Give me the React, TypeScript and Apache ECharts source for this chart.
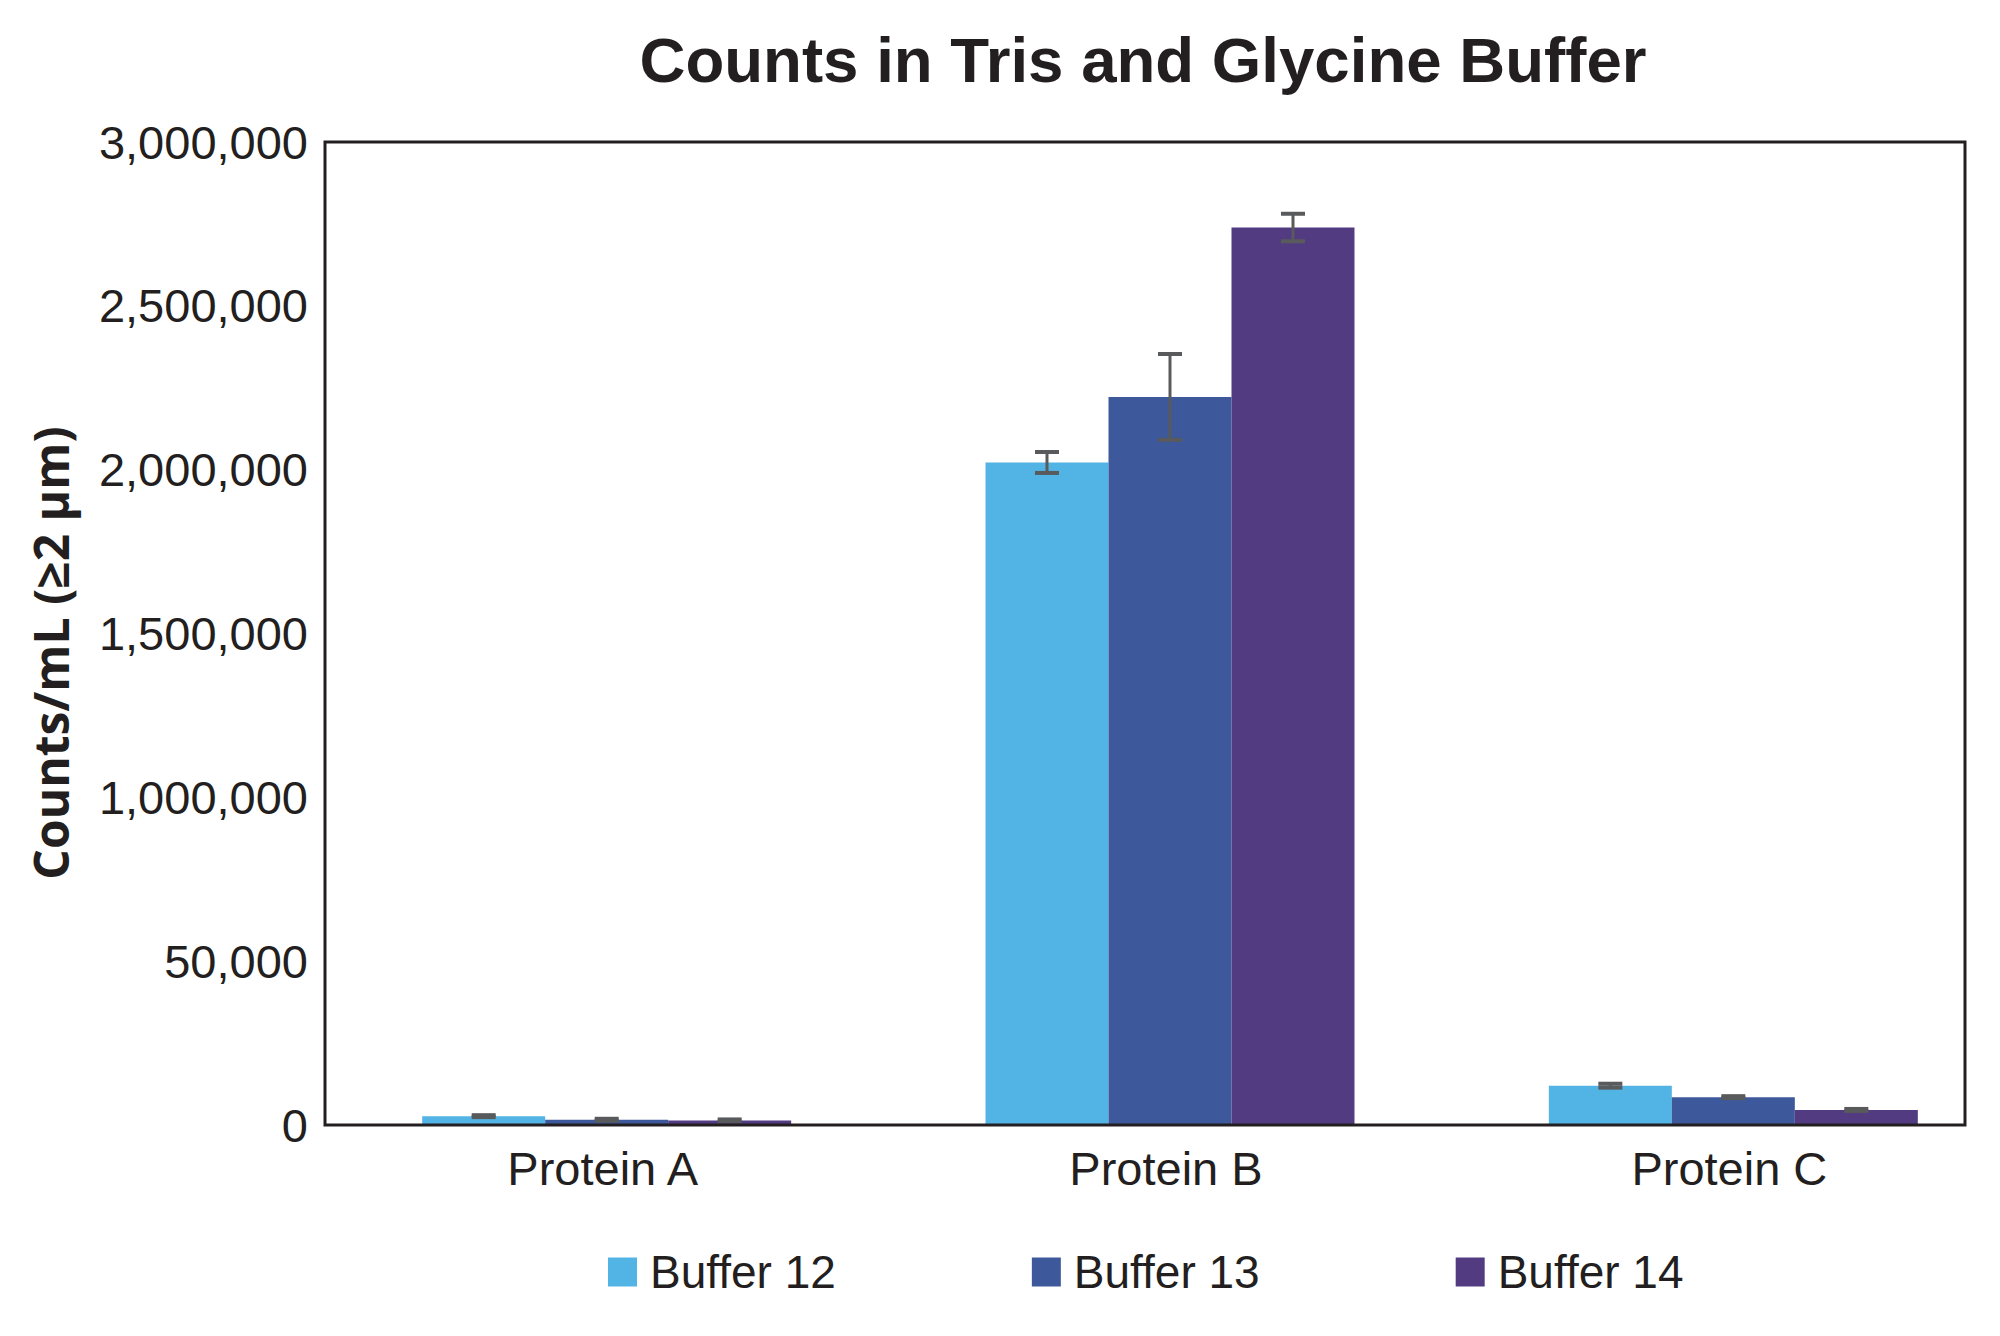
import React, { useEffect, useRef } from "react";
import * as echarts from "echarts";

const categories = ["Protein A", "Protein B", "Protein C"];
const seriesNames = ["Buffer 12", "Buffer 13", "Buffer 14"];
const seriesColors = ["#52b4e4", "#3d599c", "#533b82"];
const buffer12 = [27000, 2022000, 120000];
const buffer13 = [16000, 2222000, 85000];
const buffer14 = [14000, 2739000, 46000];
const err12 = [3000, 32000, 6000];
const err13 = [3000, 131000, 3000];
const err14 = [3000, 42000, 3000];
const yTickLabels = ["0", "50,000", "1,000,000", "1,500,000", "2,000,000", "2,500,000", "3,000,000"];

const FONT = "'Liberation Sans', Arial, Helvetica, sans-serif";
const TEXT = "#231f20";
const GAP = 0.345;

export default function App() {
  const ref = useRef<HTMLDivElement>(null);
  useEffect(() => {
    if (!ref.current) return;
    document.body.style.overflow = "hidden";
    const chart = echarts.init(ref.current, null, { renderer: "svg" });
    const values = [buffer12, buffer13, buffer14];
    const errs = [err12, err13, err14];

    const barSeries = seriesNames.map((name, i) => ({
      name,
      type: "bar",
      data: values[i],
      barGap: "0%",
      barCategoryGap: (GAP * 100).toFixed(1) + "%",
      itemStyle: { color: seriesColors[i] },
      z: 2,
    }));

    const errSeries = seriesNames.map((name, i) => ({
      name: name + " error",
      type: "custom",
      z: 5,
      clip: false,
      encode: { x: 0, y: 1 },
      data: categories.map((_, j) => [j, values[i][j], errs[i][j]]),
      renderItem: (params: any, api: any) => {
        const x = api.value(0);
        const v = api.value(1);
        const e = api.value(2);
        const band = api.size([1, 0])[0];
        const barW = (band * (1 - GAP)) / 3;
        const off = (i - 1) * barW;
        const top = api.coord([x, v + e]);
        const bot = api.coord([x, v - e]);
        const cx = top[0] + off;
        const half = 12;
        const st = { stroke: "#595a5c", lineWidth: 4 };
        return {
          type: "group",
          children: [
            { type: "line", shape: { x1: cx, y1: top[1], x2: cx, y2: bot[1] }, style: { stroke: "#595a5c", lineWidth: 3 } },
            { type: "line", shape: { x1: cx - half, y1: top[1], x2: cx + half, y2: top[1] }, style: st },
            { type: "line", shape: { x1: cx - half, y1: bot[1], x2: cx + half, y2: bot[1] }, style: st },
          ],
        };
      },
    }));

    chart.setOption({
      animation: false,
      backgroundColor: "#ffffff",
      title: {
        text: "Counts in Tris and Glycine Buffer",
        left: 1138,
        top: 22,
        textAlign: "center",
        textStyle: { fontFamily: FONT, fontWeight: "bold", fontSize: 63.6, color: TEXT },
      },
      legend: {
        data: seriesNames,
        left: 603,
        top: 1244,
        icon: "rect",
        itemWidth: 29,
        itemHeight: 29,
        itemGap: 196,
        textStyle: { fontFamily: FONT, fontSize: 46, color: TEXT, padding: [0, 0, 0, 8] },
      },
      grid: { left: 325, top: 142, width: 1690, height: 983, containLabel: false },
      xAxis: {
        type: "category",
        data: categories,
        axisLine: { show: false },
        axisTick: { show: false },
        axisLabel: { fontFamily: FONT, fontSize: 47, color: TEXT, margin: 20, padding: [0, 8, 0, 0] },
      },
      yAxis: {
        type: "value",
        min: 0,
        max: 3000000,
        interval: 500000,
        axisLine: { show: false },
        axisTick: { show: false },
        splitLine: { show: false },
        axisLabel: {
          fontFamily: FONT,
          fontSize: 47,
          color: TEXT,
          margin: 17,
          formatter: (val: number) => yTickLabels[Math.round(val / 500000)],
        },
      },
      graphic: [
        {
          type: "rect",
          z: 100,
          shape: { x: 325, y: 142, width: 1640, height: 983 },
          style: { fill: "none", stroke: TEXT, lineWidth: 3 },
        },
        {
          type: "text",
          z: 100,
          x: 50,
          y: 653,
          rotation: Math.PI / 2,
          style: {
            text: "Counts/mL (≥2 µm)",
            fontFamily: "'Open Sans', 'Noto Sans', sans-serif",
            fontWeight: "bold",
            fontSize: 48,
            fill: TEXT,
            textAlign: "center",
            textVerticalAlign: "middle",
          },
        },
      ],
      series: [...barSeries, ...errSeries],
    });
    return () => chart.dispose();
  }, []);
  return (
    <div
      ref={ref}
      style={{ position: "fixed", left: 0, top: 0, width: 2100, height: 1336, background: "#fff" }}
    />
  );
}
